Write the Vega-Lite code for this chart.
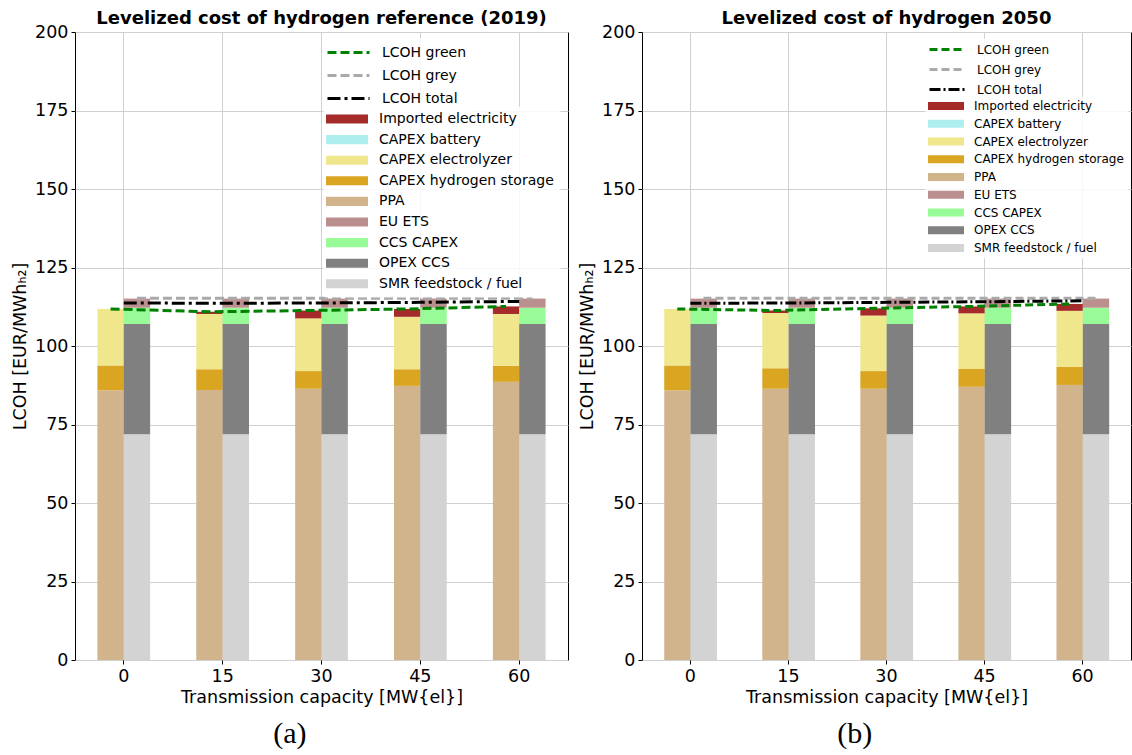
{
  "$schema": "https://vega.github.io/schema/vega-lite/v6.json",
  "padding": {"left": 11, "top": 9, "right": 0, "bottom": 0},
  "background": "white",
  "config": {
    "font": "DejaVu Sans",
    "view": {"stroke": "#000000", "strokeWidth": 1},
    "axis": {"labelFont": "DejaVu Sans", "labelFontSize": 17.5, "labelColor": "#000000", "titleFont": "DejaVu Sans", "titleFontSize": 17.5, "titleFontWeight": "normal", "titleColor": "#000000", "tickColor": "#000000", "tickSize": 4, "labelPadding": 3, "domain": false, "gridColor": "#d0d0d0", "gridWidth": 1, "zindex": 1},
    "title": {"font": "DejaVu Sans", "fontSize": 18, "fontWeight": "bold", "color": "#000000", "offset": -5}
  },
  "resolve": {
    "scale": {"color": "independent", "fill": "independent", "strokeDash": "independent"},
    "legend": {"color": "independent", "fill": "independent", "strokeDash": "independent"}
  },
  "datasets": {
    "bars": [
      {"scenario": "2019", "cap": 0, "tech": "green", "series": "PPA", "value": 85.9},
      {"scenario": "2019", "cap": 0, "tech": "green", "series": "CAPEX hydrogen storage", "value": 7.9},
      {"scenario": "2019", "cap": 0, "tech": "green", "series": "CAPEX electrolyzer", "value": 18.0},
      {"scenario": "2019", "cap": 15, "tech": "green", "series": "PPA", "value": 86.0},
      {"scenario": "2019", "cap": 15, "tech": "green", "series": "CAPEX hydrogen storage", "value": 6.6},
      {"scenario": "2019", "cap": 15, "tech": "green", "series": "CAPEX electrolyzer", "value": 17.6},
      {"scenario": "2019", "cap": 15, "tech": "green", "series": "Imported electricity", "value": 0.7},
      {"scenario": "2019", "cap": 30, "tech": "green", "series": "PPA", "value": 86.4},
      {"scenario": "2019", "cap": 30, "tech": "green", "series": "CAPEX hydrogen storage", "value": 5.6},
      {"scenario": "2019", "cap": 30, "tech": "green", "series": "CAPEX electrolyzer", "value": 16.8},
      {"scenario": "2019", "cap": 30, "tech": "green", "series": "Imported electricity", "value": 2.5},
      {"scenario": "2019", "cap": 45, "tech": "green", "series": "PPA", "value": 87.3},
      {"scenario": "2019", "cap": 45, "tech": "green", "series": "CAPEX hydrogen storage", "value": 5.3},
      {"scenario": "2019", "cap": 45, "tech": "green", "series": "CAPEX electrolyzer", "value": 16.7},
      {"scenario": "2019", "cap": 45, "tech": "green", "series": "Imported electricity", "value": 2.5},
      {"scenario": "2019", "cap": 60, "tech": "green", "series": "PPA", "value": 88.6},
      {"scenario": "2019", "cap": 60, "tech": "green", "series": "CAPEX hydrogen storage", "value": 5.1},
      {"scenario": "2019", "cap": 60, "tech": "green", "series": "CAPEX electrolyzer", "value": 16.5},
      {"scenario": "2019", "cap": 60, "tech": "green", "series": "Imported electricity", "value": 2.4},
      {"scenario": "2019", "cap": 0, "tech": "grey", "series": "SMR feedstock / fuel", "value": 71.9},
      {"scenario": "2019", "cap": 0, "tech": "grey", "series": "OPEX CCS", "value": 35.1},
      {"scenario": "2019", "cap": 0, "tech": "grey", "series": "CCS CAPEX", "value": 5.2},
      {"scenario": "2019", "cap": 0, "tech": "grey", "series": "EU ETS", "value": 2.9},
      {"scenario": "2019", "cap": 15, "tech": "grey", "series": "SMR feedstock / fuel", "value": 71.9},
      {"scenario": "2019", "cap": 15, "tech": "grey", "series": "OPEX CCS", "value": 35.1},
      {"scenario": "2019", "cap": 15, "tech": "grey", "series": "CCS CAPEX", "value": 5.2},
      {"scenario": "2019", "cap": 15, "tech": "grey", "series": "EU ETS", "value": 2.9},
      {"scenario": "2019", "cap": 30, "tech": "grey", "series": "SMR feedstock / fuel", "value": 71.9},
      {"scenario": "2019", "cap": 30, "tech": "grey", "series": "OPEX CCS", "value": 35.1},
      {"scenario": "2019", "cap": 30, "tech": "grey", "series": "CCS CAPEX", "value": 5.2},
      {"scenario": "2019", "cap": 30, "tech": "grey", "series": "EU ETS", "value": 2.9},
      {"scenario": "2019", "cap": 45, "tech": "grey", "series": "SMR feedstock / fuel", "value": 71.9},
      {"scenario": "2019", "cap": 45, "tech": "grey", "series": "OPEX CCS", "value": 35.1},
      {"scenario": "2019", "cap": 45, "tech": "grey", "series": "CCS CAPEX", "value": 5.2},
      {"scenario": "2019", "cap": 45, "tech": "grey", "series": "EU ETS", "value": 2.9},
      {"scenario": "2019", "cap": 60, "tech": "grey", "series": "SMR feedstock / fuel", "value": 71.9},
      {"scenario": "2019", "cap": 60, "tech": "grey", "series": "OPEX CCS", "value": 35.1},
      {"scenario": "2019", "cap": 60, "tech": "grey", "series": "CCS CAPEX", "value": 5.2},
      {"scenario": "2019", "cap": 60, "tech": "grey", "series": "EU ETS", "value": 2.9},
      {"scenario": "2050", "cap": 0, "tech": "green", "series": "PPA", "value": 85.9},
      {"scenario": "2050", "cap": 0, "tech": "green", "series": "CAPEX hydrogen storage", "value": 7.9},
      {"scenario": "2050", "cap": 0, "tech": "green", "series": "CAPEX electrolyzer", "value": 18.0},
      {"scenario": "2050", "cap": 15, "tech": "green", "series": "PPA", "value": 86.4},
      {"scenario": "2050", "cap": 15, "tech": "green", "series": "CAPEX hydrogen storage", "value": 6.5},
      {"scenario": "2050", "cap": 15, "tech": "green", "series": "CAPEX electrolyzer", "value": 17.6},
      {"scenario": "2050", "cap": 15, "tech": "green", "series": "Imported electricity", "value": 0.8},
      {"scenario": "2050", "cap": 30, "tech": "green", "series": "PPA", "value": 86.4},
      {"scenario": "2050", "cap": 30, "tech": "green", "series": "CAPEX hydrogen storage", "value": 5.6},
      {"scenario": "2050", "cap": 30, "tech": "green", "series": "CAPEX electrolyzer", "value": 17.7},
      {"scenario": "2050", "cap": 30, "tech": "green", "series": "Imported electricity", "value": 2.3},
      {"scenario": "2050", "cap": 45, "tech": "green", "series": "PPA", "value": 87.0},
      {"scenario": "2050", "cap": 45, "tech": "green", "series": "CAPEX hydrogen storage", "value": 5.7},
      {"scenario": "2050", "cap": 45, "tech": "green", "series": "CAPEX electrolyzer", "value": 17.7},
      {"scenario": "2050", "cap": 45, "tech": "green", "series": "Imported electricity", "value": 2.2},
      {"scenario": "2050", "cap": 60, "tech": "green", "series": "PPA", "value": 87.6},
      {"scenario": "2050", "cap": 60, "tech": "green", "series": "CAPEX hydrogen storage", "value": 5.8},
      {"scenario": "2050", "cap": 60, "tech": "green", "series": "CAPEX electrolyzer", "value": 17.8},
      {"scenario": "2050", "cap": 60, "tech": "green", "series": "Imported electricity", "value": 2.2},
      {"scenario": "2050", "cap": 0, "tech": "grey", "series": "SMR feedstock / fuel", "value": 71.9},
      {"scenario": "2050", "cap": 0, "tech": "grey", "series": "OPEX CCS", "value": 35.1},
      {"scenario": "2050", "cap": 0, "tech": "grey", "series": "CCS CAPEX", "value": 5.2},
      {"scenario": "2050", "cap": 0, "tech": "grey", "series": "EU ETS", "value": 2.9},
      {"scenario": "2050", "cap": 15, "tech": "grey", "series": "SMR feedstock / fuel", "value": 71.9},
      {"scenario": "2050", "cap": 15, "tech": "grey", "series": "OPEX CCS", "value": 35.1},
      {"scenario": "2050", "cap": 15, "tech": "grey", "series": "CCS CAPEX", "value": 5.2},
      {"scenario": "2050", "cap": 15, "tech": "grey", "series": "EU ETS", "value": 2.9},
      {"scenario": "2050", "cap": 30, "tech": "grey", "series": "SMR feedstock / fuel", "value": 71.9},
      {"scenario": "2050", "cap": 30, "tech": "grey", "series": "OPEX CCS", "value": 35.1},
      {"scenario": "2050", "cap": 30, "tech": "grey", "series": "CCS CAPEX", "value": 5.2},
      {"scenario": "2050", "cap": 30, "tech": "grey", "series": "EU ETS", "value": 2.9},
      {"scenario": "2050", "cap": 45, "tech": "grey", "series": "SMR feedstock / fuel", "value": 71.9},
      {"scenario": "2050", "cap": 45, "tech": "grey", "series": "OPEX CCS", "value": 35.1},
      {"scenario": "2050", "cap": 45, "tech": "grey", "series": "CCS CAPEX", "value": 5.2},
      {"scenario": "2050", "cap": 45, "tech": "grey", "series": "EU ETS", "value": 2.9},
      {"scenario": "2050", "cap": 60, "tech": "grey", "series": "SMR feedstock / fuel", "value": 71.9},
      {"scenario": "2050", "cap": 60, "tech": "grey", "series": "OPEX CCS", "value": 35.1},
      {"scenario": "2050", "cap": 60, "tech": "grey", "series": "CCS CAPEX", "value": 5.2},
      {"scenario": "2050", "cap": 60, "tech": "grey", "series": "EU ETS", "value": 2.9}
    ],
    "lines": [
      {"scenario": "2019", "cap": 0, "tech": "green", "series": "LCOH green", "value": 111.8},
      {"scenario": "2019", "cap": 15, "tech": "green", "series": "LCOH green", "value": 110.9},
      {"scenario": "2019", "cap": 30, "tech": "green", "series": "LCOH green", "value": 111.3},
      {"scenario": "2019", "cap": 45, "tech": "green", "series": "LCOH green", "value": 111.8},
      {"scenario": "2019", "cap": 60, "tech": "green", "series": "LCOH green", "value": 112.6},
      {"scenario": "2019", "cap": 0, "tech": "grey", "series": "LCOH grey", "value": 115.2},
      {"scenario": "2019", "cap": 15, "tech": "grey", "series": "LCOH grey", "value": 115.2},
      {"scenario": "2019", "cap": 30, "tech": "grey", "series": "LCOH grey", "value": 115.2},
      {"scenario": "2019", "cap": 45, "tech": "grey", "series": "LCOH grey", "value": 115.2},
      {"scenario": "2019", "cap": 60, "tech": "grey", "series": "LCOH grey", "value": 115.2},
      {"scenario": "2019", "cap": 0, "tech": "total", "series": "LCOH total", "value": 113.7},
      {"scenario": "2019", "cap": 15, "tech": "total", "series": "LCOH total", "value": 113.6},
      {"scenario": "2019", "cap": 30, "tech": "total", "series": "LCOH total", "value": 113.7},
      {"scenario": "2019", "cap": 45, "tech": "total", "series": "LCOH total", "value": 113.9},
      {"scenario": "2019", "cap": 60, "tech": "total", "series": "LCOH total", "value": 114.2},
      {"scenario": "2050", "cap": 0, "tech": "green", "series": "LCOH green", "value": 111.8},
      {"scenario": "2050", "cap": 15, "tech": "green", "series": "LCOH green", "value": 111.3},
      {"scenario": "2050", "cap": 30, "tech": "green", "series": "LCOH green", "value": 112.0},
      {"scenario": "2050", "cap": 45, "tech": "green", "series": "LCOH green", "value": 112.6},
      {"scenario": "2050", "cap": 60, "tech": "green", "series": "LCOH green", "value": 113.4},
      {"scenario": "2050", "cap": 0, "tech": "grey", "series": "LCOH grey", "value": 115.2},
      {"scenario": "2050", "cap": 15, "tech": "grey", "series": "LCOH grey", "value": 115.2},
      {"scenario": "2050", "cap": 30, "tech": "grey", "series": "LCOH grey", "value": 115.2},
      {"scenario": "2050", "cap": 45, "tech": "grey", "series": "LCOH grey", "value": 115.2},
      {"scenario": "2050", "cap": 60, "tech": "grey", "series": "LCOH grey", "value": 115.2},
      {"scenario": "2050", "cap": 0, "tech": "total", "series": "LCOH total", "value": 113.6},
      {"scenario": "2050", "cap": 15, "tech": "total", "series": "LCOH total", "value": 113.7},
      {"scenario": "2050", "cap": 30, "tech": "total", "series": "LCOH total", "value": 113.9},
      {"scenario": "2050", "cap": 45, "tech": "total", "series": "LCOH total", "value": 114.1},
      {"scenario": "2050", "cap": 60, "tech": "total", "series": "LCOH total", "value": 114.4}
    ]
  },
  "spacing": 9,
  "hconcat": [
    {
      "title": {"text": "(a)", "orient": "bottom", "anchor": "middle", "frame": "bounds", "font": "Liberation Serif", "fontSize": 30, "fontWeight": "normal", "offset": 12},
      "resolve": {
        "scale": {"color": "independent", "fill": "independent", "strokeDash": "independent"},
        "legend": {"color": "independent", "fill": "independent", "strokeDash": "independent"}
      },
      "vconcat": [
        {
          "width": 493,
          "height": 628,
          "title": {"text": "Levelized cost of hydrogen reference (2019)"},
          "layer": [
            {
              "data": {"name": "bars"},
              "transform": [
                {"filter": "datum.scenario == '2019'"},
                {"calculate": "indexof(['Imported electricity','CAPEX battery','CAPEX electrolyzer','CAPEX hydrogen storage','PPA','EU ETS','CCS CAPEX','OPEX CCS','SMR feedstock / fuel'], datum.series)", "as": "ord"}
              ],
              "mark": {"type": "bar"},
              "encoding": {
                "x": {"field": "cap", "type": "ordinal", "scale": {"type": "band", "domain": [0, 15, 30, 45, 60], "paddingInner": 0.4667, "paddingOuter": 0.2267}, "axis": {"title": "Transmission capacity [MW{el}]", "labelAngle": 0, "bandPosition": 0.5, "grid": true}},
                "xOffset": {"field": "tech", "type": "nominal", "scale": {"domain": ["green", "grey"]}},
                "y": {"field": "value", "type": "quantitative", "stack": "zero", "scale": {"domain": [0, 200]}, "axis": {"title": "LCOH [EUR/MWhₕ₂]", "values": [0, 25, 50, 75, 100, 125, 150, 175, 200], "grid": true, "titlePadding": 5}},
                "order": {"field": "ord", "type": "quantitative", "sort": "descending"},
                "fill": {
                  "field": "series", "type": "nominal",
                  "scale": {"domain": ["Imported electricity", "CAPEX battery", "CAPEX electrolyzer", "CAPEX hydrogen storage", "PPA", "EU ETS", "CCS CAPEX", "OPEX CCS", "SMR feedstock / fuel"], "range": ["#a52a2a", "#afeeee", "#f0e68c", "#daa520", "#d2b48c", "#bc8f8f", "#98fb98", "#808080", "#d3d3d3"]},
                  "legend": {
                    "title": null, "orient": "none", "legendX": 248, "legendY": 74, "padding": 6, "zindex": 3,
                    "labelFont": "DejaVu Sans", "labelFontSize": 14, "labelColor": "#000000", "labelLimit": 300,
                    "symbolType": "M-3,-0.65H3V0.65H-3Z", "symbolSize": 196, "symbolStrokeWidth": 0, "symbolOffset": 11, "labelOffset": 25, "rowPadding": 6.6,
                    "fillColor": "rgba(255,255,255,0.85)", "strokeColor": "transparent", "cornerRadius": 3
                  }
                }
              }
            },
            {
              "data": {"name": "lines"},
              "transform": [{"filter": "datum.scenario == '2019' && datum.tech == 'green'"}],
              "mark": {"type": "line", "strokeWidth": 3, "xOffset": -13.2},
              "encoding": {
                "x": {"field": "cap", "type": "ordinal"},
                "y": {"field": "value", "type": "quantitative"},
                "color": {
                  "field": "series", "type": "nominal",
                  "scale": {"domain": ["LCOH green", "LCOH grey", "LCOH total"], "range": ["#008000", "#a9a9a9", "#000000"]},
                  "legend": {
                    "title": null, "orient": "none", "legendX": 248, "legendY": 6, "padding": 6, "zindex": 2,
                    "labelFont": "DejaVu Sans", "labelFontSize": 14, "labelColor": "#000000", "labelLimit": 300,
                    "symbolType": "M-3,0H3", "symbolSize": 196, "symbolStrokeWidth": 3, "symbolOffset": 11, "labelOffset": 25, "rowPadding": 7,
                    "fillColor": "rgba(255,255,255,0.85)", "strokeColor": "transparent", "cornerRadius": 3
                  }
                },
                "strokeDash": {
                  "field": "series", "type": "nominal",
                  "scale": {"domain": ["LCOH green", "LCOH grey", "LCOH total"], "range": [[9, 4], [9, 4], [13, 4, 3, 4]]},
                  "legend": {
                    "title": null, "orient": "none", "legendX": 248, "legendY": 6, "padding": 6, "zindex": 2,
                    "labelFont": "DejaVu Sans", "labelFontSize": 14, "labelColor": "#000000", "labelLimit": 300,
                    "symbolType": "M-3,0H3", "symbolSize": 196, "symbolStrokeWidth": 3, "symbolOffset": 11, "labelOffset": 25, "rowPadding": 7,
                    "fillColor": "rgba(255,255,255,0.85)", "strokeColor": "transparent", "cornerRadius": 3
                  }
                }
              }
            },
            {
              "data": {"name": "lines"},
              "transform": [{"filter": "datum.scenario == '2019' && datum.tech == 'grey'"}],
              "mark": {"type": "line", "strokeWidth": 3, "xOffset": 13.2},
              "encoding": {
                "x": {"field": "cap", "type": "ordinal"},
                "y": {"field": "value", "type": "quantitative"},
                "color": {"field": "series", "type": "nominal"},
                "strokeDash": {"field": "series", "type": "nominal"}
              }
            },
            {
              "data": {"name": "lines"},
              "transform": [{"filter": "datum.scenario == '2019' && datum.tech == 'total'"}],
              "mark": {"type": "line", "strokeWidth": 3},
              "encoding": {
                "x": {"field": "cap", "type": "ordinal"},
                "y": {"field": "value", "type": "quantitative"},
                "color": {"field": "series", "type": "nominal"},
                "strokeDash": {"field": "series", "type": "nominal"}
              }
            }
          ]
        }
      ]
    },
    {
      "title": {"text": "(b)", "orient": "bottom", "anchor": "middle", "frame": "bounds", "font": "Liberation Serif", "fontSize": 30, "fontWeight": "normal", "offset": 12},
      "resolve": {
        "scale": {"color": "independent", "fill": "independent", "strokeDash": "independent"},
        "legend": {"color": "independent", "fill": "independent", "strokeDash": "independent"}
      },
      "vconcat": [
        {
          "width": 489,
          "height": 628,
          "title": {"text": "Levelized cost of hydrogen 2050"},
          "layer": [
            {
              "data": {"name": "bars"},
              "transform": [
                {"filter": "datum.scenario == '2050'"},
                {"calculate": "indexof(['Imported electricity','CAPEX battery','CAPEX electrolyzer','CAPEX hydrogen storage','PPA','EU ETS','CCS CAPEX','OPEX CCS','SMR feedstock / fuel'], datum.series)", "as": "ord"}
              ],
              "mark": {"type": "bar"},
              "encoding": {
                "x": {"field": "cap", "type": "ordinal", "scale": {"type": "band", "domain": [0, 15, 30, 45, 60], "paddingInner": 0.4667, "paddingOuter": 0.2267}, "axis": {"title": "Transmission capacity [MW{el}]", "labelAngle": 0, "bandPosition": 0.5, "grid": true}},
                "xOffset": {"field": "tech", "type": "nominal", "scale": {"domain": ["green", "grey"]}},
                "y": {"field": "value", "type": "quantitative", "stack": "zero", "scale": {"domain": [0, 200]}, "axis": {"title": "LCOH [EUR/MWhₕ₂]", "values": [0, 25, 50, 75, 100, 125, 150, 175, 200], "grid": true, "titlePadding": 5}},
                "order": {"field": "ord", "type": "quantitative", "sort": "descending"},
                "fill": {
                  "field": "series", "type": "nominal",
                  "scale": {"domain": ["Imported electricity", "CAPEX battery", "CAPEX electrolyzer", "CAPEX hydrogen storage", "PPA", "EU ETS", "CCS CAPEX", "OPEX CCS", "SMR feedstock / fuel"], "range": ["#a52a2a", "#afeeee", "#f0e68c", "#daa520", "#d2b48c", "#bc8f8f", "#98fb98", "#808080", "#d3d3d3"]},
                  "legend": {
                    "title": null, "orient": "none", "legendX": 283, "legendY": 64, "padding": 4, "zindex": 3,
                    "labelFont": "DejaVu Sans", "labelFontSize": 12, "labelColor": "#000000", "labelLimit": 300,
                    "symbolType": "M-3,-0.67H3V0.67H-3Z", "symbolSize": 144, "symbolStrokeWidth": 0, "symbolOffset": 11, "labelOffset": 22, "rowPadding": 5.75,
                    "fillColor": "rgba(255,255,255,0.85)", "strokeColor": "transparent", "cornerRadius": 3
                  }
                }
              }
            },
            {
              "data": {"name": "lines"},
              "transform": [{"filter": "datum.scenario == '2050' && datum.tech == 'green'"}],
              "mark": {"type": "line", "strokeWidth": 3, "xOffset": -13.1},
              "encoding": {
                "x": {"field": "cap", "type": "ordinal"},
                "y": {"field": "value", "type": "quantitative"},
                "color": {
                  "field": "series", "type": "nominal",
                  "scale": {"domain": ["LCOH green", "LCOH grey", "LCOH total"], "range": ["#008000", "#a9a9a9", "#000000"]},
                  "legend": {
                    "title": null, "orient": "none", "legendX": 283, "legendY": 6, "padding": 4, "zindex": 2,
                    "labelFont": "DejaVu Sans", "labelFontSize": 12, "labelColor": "#000000", "labelLimit": 300,
                    "symbolType": "M-3,0H3", "symbolSize": 144, "symbolStrokeWidth": 3, "symbolOffset": 11, "labelOffset": 22, "rowPadding": 6,
                    "fillColor": "rgba(255,255,255,0.85)", "strokeColor": "transparent", "cornerRadius": 3
                  }
                },
                "strokeDash": {
                  "field": "series", "type": "nominal",
                  "scale": {"domain": ["LCOH green", "LCOH grey", "LCOH total"], "range": [[8, 4], [8, 4], [11, 3, 2, 3]]},
                  "legend": {
                    "title": null, "orient": "none", "legendX": 283, "legendY": 6, "padding": 4, "zindex": 2,
                    "labelFont": "DejaVu Sans", "labelFontSize": 12, "labelColor": "#000000", "labelLimit": 300,
                    "symbolType": "M-3,0H3", "symbolSize": 144, "symbolStrokeWidth": 3, "symbolOffset": 11, "labelOffset": 22, "rowPadding": 6,
                    "fillColor": "rgba(255,255,255,0.85)", "strokeColor": "transparent", "cornerRadius": 3
                  }
                }
              }
            },
            {
              "data": {"name": "lines"},
              "transform": [{"filter": "datum.scenario == '2050' && datum.tech == 'grey'"}],
              "mark": {"type": "line", "strokeWidth": 3, "xOffset": 13.1},
              "encoding": {
                "x": {"field": "cap", "type": "ordinal"},
                "y": {"field": "value", "type": "quantitative"},
                "color": {"field": "series", "type": "nominal"},
                "strokeDash": {"field": "series", "type": "nominal"}
              }
            },
            {
              "data": {"name": "lines"},
              "transform": [{"filter": "datum.scenario == '2050' && datum.tech == 'total'"}],
              "mark": {"type": "line", "strokeWidth": 3},
              "encoding": {
                "x": {"field": "cap", "type": "ordinal"},
                "y": {"field": "value", "type": "quantitative"},
                "color": {"field": "series", "type": "nominal"},
                "strokeDash": {"field": "series", "type": "nominal"}
              }
            }
          ]
        }
      ]
    }
  ]
}
